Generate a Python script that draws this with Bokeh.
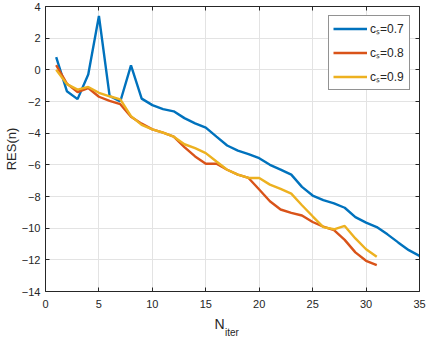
from bokeh.plotting import figure
from bokeh.models import (LinearAxis, FixedTicker, Legend, LegendItem, Range1d)
from bokeh.embed import file_html
from bokeh.resources import INLINE

# ---- data ----
x_07 = list(range(1, 36))
res_07 = [0.8, -1.35, -1.85, -0.3, 3.4, -1.65, -2.0, 0.28, -1.82, -2.23,
          -2.48, -2.62, -3.05, -3.38, -3.65, -4.22, -4.78, -5.1, -5.32, -5.58,
          -6.0, -6.3, -6.62, -7.39, -7.94, -8.23, -8.44, -8.71, -9.3, -9.65,
          -9.93, -10.39, -10.9, -11.39, -11.75]
x_08 = list(range(1, 32))
res_08 = [0.3, -0.87, -1.4, -1.15, -1.7, -1.96, -2.17, -2.96, -3.4, -3.76,
          -3.97, -4.22, -4.88, -5.47, -5.93, -5.93, -6.31, -6.62, -6.83, -7.56,
          -8.3, -8.82, -9.03, -9.2, -9.61, -9.9, -10.13, -10.74, -11.53, -12.06,
          -12.33]
x_09 = list(range(1, 32))
res_09 = [0.0, -0.9, -1.25, -1.08, -1.45, -1.67, -1.87, -2.92, -3.48, -3.76,
          -3.97, -4.22, -4.7, -4.95, -5.26, -5.79, -6.31, -6.62, -6.83, -6.83,
          -7.25, -7.52, -7.82, -8.55, -9.25, -9.93, -10.07, -9.86, -10.65, -11.33,
          -11.81]
legend_labels = ["c\u209b=0.7", "c\u209b=0.8", "c\u209b=0.9"]
x_ticks = [0, 5, 10, 15, 20, 25, 30, 35]
y_ticks = [-14, -12, -10, -8, -6, -4, -2, 0, 2, 4]
x_lim = (0, 35)
y_lim = (-14, 4)
x_label_main = "N"
x_label_sub = "iter"
y_label = "RES(n)"

colors = ["#0072BD", "#D95319", "#EDB120"]
FONT = "Liberation Sans"
TXT = "#262626"

p = figure(width=427, height=340, output_backend="svg", toolbar_location=None,
           x_range=Range1d(*x_lim), y_range=Range1d(*y_lim),
           min_border_left=44, min_border_right=8, min_border_top=6,
           min_border_bottom=47)
p.outline_line_color = None
p.background_fill_color = "white"

r1 = p.line(x_07, res_07, line_color=colors[0], line_width=2.4)
r2 = p.line(x_08, res_08, line_color=colors[1], line_width=2.4)
r3 = p.line(x_09, res_09, line_color=colors[2], line_width=2.4)

def style_axis(ax, labels=True):
    ax.axis_line_color = TXT
    ax.axis_line_width = 1
    ax.major_tick_line_color = TXT
    ax.major_tick_in = 4
    ax.major_tick_out = 0
    ax.minor_tick_line_color = None
    ax.major_label_text_font = FONT
    ax.major_label_text_color = TXT
    if labels:
        ax.major_label_text_font_size = "11px"
    else:
        ax.major_label_text_font_size = "0px"
        ax.major_label_standoff = 0

p.xaxis.ticker = FixedTicker(ticks=x_ticks)
p.yaxis.ticker = FixedTicker(ticks=y_ticks)
style_axis(p.xaxis[0])
style_axis(p.yaxis[0])
p.xaxis.major_label_standoff = 8
p.yaxis.major_label_standoff = 5
p.yaxis.axis_label = y_label
p.yaxis.axis_label_text_font = FONT
p.yaxis.axis_label_text_font_size = "13px"
p.yaxis.axis_label_text_font_style = "normal"
p.yaxis.axis_label_text_color = TXT
p.yaxis.axis_label_standoff = 0

top = LinearAxis(ticker=FixedTicker(ticks=x_ticks))
style_axis(top, labels=False)
p.add_layout(top, "above")
right = LinearAxis(ticker=FixedTicker(ticks=y_ticks))
style_axis(right, labels=False)
p.add_layout(right, "right")

# x axis label N_iter built from two label-only axes below the main one
xc = x_lim[0] + (x_lim[1] - x_lim[0]) / 2
n_pos = xc - 1.2
sub_pos = xc - 0.05
ax_n = LinearAxis(ticker=FixedTicker(ticks=[n_pos]), major_label_overrides={n_pos: x_label_main})
ax_s = LinearAxis(ticker=FixedTicker(ticks=[sub_pos]), major_label_overrides={sub_pos: x_label_sub})
for ax, fs, so in ((ax_n, "14px", 5), (ax_s, "10px", -8)):
    ax.axis_line_color = None
    ax.major_tick_line_color = None
    ax.minor_tick_line_color = None
    ax.major_tick_in = 0
    ax.major_tick_out = 0
    ax.major_label_text_font = FONT
    ax.major_label_text_font_size = fs
    ax.major_label_text_color = TXT
    ax.major_label_standoff = so
    p.add_layout(ax, "below")

p.grid.grid_line_color = "#e3e3e3"
p.grid.grid_line_width = 1
p.xgrid.ticker = FixedTicker(ticks=x_ticks)
p.ygrid.ticker = FixedTicker(ticks=y_ticks)

legend = Legend(items=[LegendItem(label=t, renderers=[r]) for t, r in zip(legend_labels, (r1, r2, r3))],
                location="top_right", margin=9, padding=4, spacing=7,
                glyph_width=34, glyph_height=15, label_height=15, label_width=35,
                label_standoff=3, label_text_font=FONT, label_text_font_size="12px",
                label_text_color=TXT, border_line_color=TXT, border_line_width=1,
                background_fill_color="white", background_fill_alpha=1)
p.add_layout(legend)

open("out.html", "w").write(file_html(p, INLINE))
